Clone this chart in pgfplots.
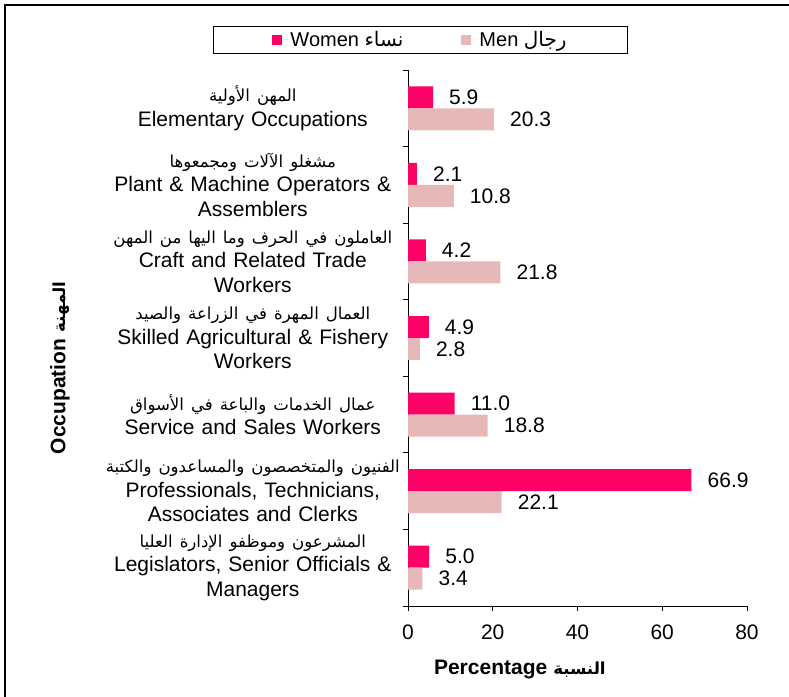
\documentclass[border=0pt]{standalone}
\usepackage{fontspec}
\setmainfont{Liberation Sans}
\newfontfamily\arabicfont[Script=Arabic,Scale=0.79]{DejaVu Sans}
\newfontfamily\arabicL[Script=Arabic]{DejaVu Sans}
\TeXXeTstate=1
\usepackage{pgfplots}
\pgfplotsset{compat=1.18}
\definecolor{women}{RGB}{255,0,102}
\definecolor{men}{RGB}{230,185,184}
\newcommand{\fs}{\fontsize{21}{24.5}\selectfont}
\begin{document}
\begin{tikzpicture}[x=1pt,y=1pt]
\useasboundingbox (0,0) rectangle (789,-696);
\draw[line width=2pt] (5,-697) -- (5,-5) -- (790,-5);
\begin{axis}[
  at={(408pt,-606pt)}, anchor=south west,
  scale only axis, width=339pt, height=536pt,
  xbar, bar width=0.287,
  xmin=0, xmax=80, ymin=-0.5, ymax=6.5,
  axis lines=left, axis line style={-, line width=0.8pt},
  tick align=outside, major tick length=5pt, minor tick length=5pt,
  tick style={black, line width=0.8pt},
  xtick={0,20,40,60,80},
  ytick={0,...,6},
  major y tick style={draw=none},
  minor ytick={-0.5,0.5,...,6.5},
  /pgf/number format/assume math mode=true,
  ticklabel style={font=\fs},
  xticklabel style={yshift=-10pt},
  yticklabel style={align=center, text width=300pt, anchor=east, inner xsep=0pt, xshift=0pt},
  yticklabels={
    {\mbox{\arabicfont\beginR المشرعون وموظفو الإدارة العليا\endR}\\Legislators, Senior Officials \&\\Managers},
    {\mbox{\arabicfont\beginR الفنيون والمتخصصون والمساعدون والكتبة\endR}\\Professionals, Technicians,\\Associates and Clerks},
    {\mbox{\arabicfont\beginR عمال الخدمات والباعة في الأسواق\endR}\\Service and Sales Workers},
    {\mbox{\arabicfont\beginR العمال المهرة في الزراعة والصيد\endR}\\Skilled Agricultural \& Fishery\\Workers},
    {\mbox{\arabicfont\beginR العاملون في الحرف وما اليها من المهن\endR}\\Craft and Related Trade\\Workers},
    {\mbox{\arabicfont\beginR مشغلو الآلات ومجمعوها\endR}\\Plant \& Machine Operators \&\\Assemblers},
    {\mbox{\arabicfont\beginR المهن الأولية\endR}\\Elementary Occupations}
  },
  point meta=x,
  nodes near coords={\pgfmathprintnumber[fixed,fixed zerofill,precision=1]{\pgfplotspointmeta}},
  every node near coord/.append style={anchor=west, inner sep=0pt, xshift=16pt, font=\fs, text=black},
  xlabel={\textbf{Percentage}\hspace{6pt}{\bfseries\arabicfont\beginR النسبة\endR}},
  xlabel style={at={(axis description cs:0.33,-0.119)}, anchor=center, font=\fs},
  ylabel={\textbf{Occupation}\hspace{6pt}{\bfseries\arabicfont\beginR المهنة\endR}},
  ylabel style={at={(axis description cs:-1.027,0.444)}, anchor=center, font=\fs},
  legend columns=2,
  legend image code/.code={\fill[#1] (0pt,-5pt) rectangle (10pt,5pt); \path (0pt,0pt) -- (16pt,0pt);},
  legend style={at={(axis description cs:0.037,1.056)}, anchor=center, draw=black, line width=0.6pt,
    inner xsep=59pt, inner ysep=3pt, font=\fontsize{20}{24}\selectfont,
    /tikz/every even column/.append style={column sep=56pt}},
]
\addplot[fill=women, draw=none, bar shift=0.1436] coordinates {
  (5.0,0) (66.9,1) (11.0,2) (4.9,3) (4.2,4) (2.1,5) (5.9,6)};
\addplot[fill=men, draw=none, bar shift=-0.1436] coordinates {
  (3.4,0) (22.1,1) (18.8,2) (2.8,3) (21.8,4) (10.8,5) (20.3,6)};
\legend{Women {\arabicL\beginR نساء\endR}, Men {\arabicL\beginR رجال\endR}}
\end{axis}
\end{tikzpicture}
\end{document}
